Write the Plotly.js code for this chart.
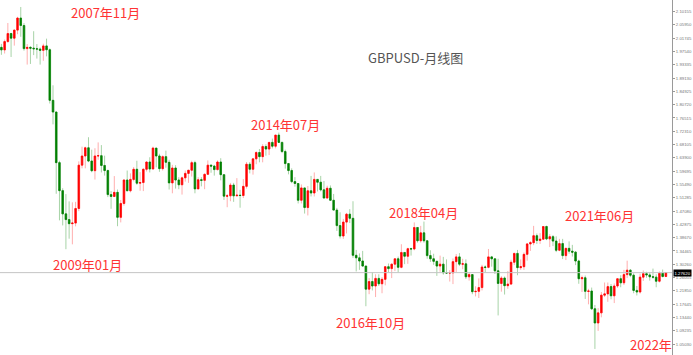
<!DOCTYPE html>
<html>
<head>
<meta charset="utf-8">
<script src="https://cdn.plot.ly/plotly-3.0.1.min.js"></script>
<style>html,body{margin:0;padding:0;background:#fff;}#chart{width:693px;height:355px;}</style>
</head>
<body>
<div id="chart"></div>
<script>
// Monthly GBPUSD candles, May 2007 .. Jul 2024
var startYear = 2007, startMonth = 5;

var openP = [
 1.9885,1.9805,2.0068,2.0322,2.0175,2.0430,2.0810,2.0575,
 1.9845,1.9885,1.9860,1.9840,1.9830,1.9790,1.9930,1.9810,1.8210,1.7840,1.6240,1.5355,
 1.4620,1.4440,1.4310,1.4330,1.4790,1.6160,1.6450,1.6710,1.6290,1.5985,1.6450,1.6460,
 1.6150,1.5990,1.5230,1.5170,1.5300,1.4510,1.4950,1.5690,1.5350,1.5710,1.6030,1.5590,
 1.5610,1.6030,1.6260,1.6040,1.6700,1.6450,1.6050,1.6430,1.6250,1.5600,1.6070,1.5690,
 1.5540,1.5760,1.5900,1.6000,1.6240,1.5410,1.5700,1.5680,1.5870,1.6160,1.6130,1.6020,
 1.6260,1.5860,1.5180,1.5190,1.5530,1.5190,1.5210,1.5200,1.5490,1.6190,1.6030,1.6360,
 1.6560,1.6430,1.6750,1.6670,1.6880,1.6760,1.7110,1.6880,1.6590,1.6210,1.5990,1.5640,
 1.5580,1.5050,1.5440,1.4820,1.5350,1.5280,1.5710,1.5620,1.5380,1.5120,1.5430,1.5050,
 1.4740,1.4250,1.3920,1.4360,1.4610,1.4480,1.3310,1.3230,1.3130,1.2970,1.2240,1.2480,
 1.2340,1.2580,1.2410,1.2550,1.2950,1.2890,1.3030,1.3200,1.2930,1.3400,1.3280,1.3520,
 1.3510,1.4190,1.3770,1.4020,1.3770,1.3300,1.3200,1.3120,1.2970,1.3030,1.2760,1.2750,
 1.2755,1.3110,1.3260,1.3030,1.3040,1.2630,1.2700,1.2160,1.2170,1.2290,1.2940,1.2930,
 1.3260,1.3200,1.2820,1.2420,1.2590,1.2350,1.2400,1.3090,1.3370,1.2920,1.2950,1.3340,
 1.3670,1.3710,1.3930,1.3780,1.3820,1.4220,1.3830,1.3900,1.3760,1.3470,1.3680,1.3300,
 1.3530,1.3440,1.3410,1.3130,1.2570,1.2600,1.2170,1.2180,1.1620,1.1170,1.1490,1.2050,
 1.2090,1.2320,1.2030,1.2340,1.2570,1.2440,1.2700,1.2840,1.2680,1.2200,1.2150,1.2620,
 1.2730,1.2690,1.2630,1.2620,1.2490,1.2740,1.2640
];
var highP = [
 1.9994,2.0133,2.0655,2.0345,2.0450,2.0850,2.1161,2.0650,
 1.9990,1.9920,2.0395,1.9990,1.9880,2.0000,2.0160,1.9850,1.8685,1.7850,1.6300,1.5430,
 1.5245,1.5015,1.4985,1.5000,1.6280,1.6745,1.6745,1.7043,1.6650,1.6695,1.6880,1.6795,
 1.6460,1.6020,1.5340,1.5815,1.5390,1.5060,1.5720,1.5990,1.5900,1.6100,1.6300,1.5940,
 1.6060,1.6280,1.6410,1.6745,1.6700,1.6520,1.6470,1.6620,1.6330,1.6170,1.6160,1.5780,
 1.5800,1.5990,1.6010,1.6300,1.6300,1.5780,1.5780,1.5900,1.6310,1.6180,1.6170,1.6310,
 1.6380,1.5860,1.5250,1.5600,1.5600,1.5750,1.5380,1.5720,1.6260,1.6260,1.6380,1.6600,
 1.6670,1.6820,1.6820,1.6890,1.7000,1.7120,1.7191,1.6900,1.6650,1.6230,1.6060,1.5780,
 1.5590,1.5550,1.5450,1.5500,1.5820,1.5930,1.5720,1.5820,1.5660,1.5510,1.5520,1.5250,
 1.4810,1.4670,1.4460,1.4650,1.4770,1.5020,1.3480,1.3370,1.3450,1.2980,1.2590,1.2780,
 1.2710,1.2710,1.2620,1.2970,1.3050,1.3050,1.3210,1.3270,1.3660,1.3410,1.3550,1.3550,
 1.4350,1.4200,1.4240,1.4377,1.3780,1.3470,1.3360,1.3140,1.3300,1.3260,1.3180,1.2840,
 1.3210,1.3350,1.3380,1.3200,1.3180,1.2780,1.2710,1.2330,1.2580,1.3010,1.2990,1.3510,
 1.3290,1.3210,1.3200,1.2650,1.2640,1.2810,1.3170,1.3390,1.3480,1.3180,1.3400,1.3700,
 1.3760,1.4240,1.4000,1.4010,1.4230,1.4250,1.3980,1.3950,1.3910,1.3830,1.3830,1.3550,
 1.3750,1.3640,1.3440,1.3170,1.2670,1.2670,1.2250,1.2290,1.1740,1.1640,1.2150,1.2450,
 1.2450,1.2400,1.2420,1.2580,1.2680,1.2850,1.3140,1.2870,1.2740,1.2340,1.2730,1.2830,
 1.2790,1.2770,1.2890,1.2710,1.2800,1.2860,1.2780
];
var lowP = [
 1.9649,1.9690,2.0030,1.9580,1.9940,2.0300,2.0220,1.9780,
 1.9340,1.9360,1.9640,1.9530,1.9340,1.9460,1.9600,1.8110,1.7450,1.5255,1.4415,1.4255,
 1.3503,1.3835,1.3657,1.4225,1.4705,1.6060,1.6060,1.6255,1.5935,1.5705,1.6330,1.5930,
 1.5830,1.5150,1.4780,1.5150,1.4230,1.4350,1.4880,1.5340,1.5300,1.5650,1.5540,1.5350,
 1.5340,1.5960,1.5930,1.6020,1.6090,1.5950,1.5990,1.6080,1.5390,1.5270,1.5420,1.5400,
 1.5230,1.5640,1.5600,1.5800,1.5270,1.5400,1.5490,1.5400,1.5850,1.5920,1.5830,1.5990,
 1.5680,1.5060,1.4830,1.5020,1.5000,1.5180,1.4815,1.5120,1.5420,1.5900,1.5860,1.6190,
 1.6250,1.6250,1.6460,1.6480,1.6690,1.6690,1.6860,1.6540,1.6050,1.5870,1.5590,1.5480,
 1.4950,1.4950,1.4630,1.4570,1.5170,1.5170,1.5330,1.5330,1.5110,1.5110,1.5030,1.4730,
 1.4080,1.3840,1.3830,1.4000,1.4330,1.3230,1.2800,1.2850,1.2950,1.1700,1.2080,1.2200,
 1.1990,1.2340,1.2110,1.2360,1.2770,1.2590,1.2810,1.2770,1.2900,1.3030,1.3040,1.3300,
 1.3470,1.3710,1.3710,1.3710,1.3200,1.3100,1.3010,1.2660,1.2790,1.2700,1.2720,1.2480,
 1.2400,1.2780,1.2970,1.2870,1.2560,1.2510,1.2080,1.2010,1.1960,1.2200,1.2770,1.2900,
 1.2950,1.2720,1.1409,1.2160,1.2070,1.2250,1.2370,1.3000,1.2680,1.2850,1.2850,1.3140,
 1.3450,1.3630,1.3670,1.3670,1.3800,1.3790,1.3570,1.3600,1.3410,1.3440,1.3190,1.3160,
 1.3360,1.3270,1.3000,1.2410,1.2150,1.1930,1.1760,1.1580,1.0350,1.0920,1.1350,1.1990,
 1.1840,1.1920,1.1800,1.2280,1.2300,1.2370,1.2590,1.2620,1.2110,1.2040,1.2100,1.2500,
 1.2600,1.2510,1.2570,1.2300,1.2450,1.2610,1.2620
];
var closeP = [
 1.9805,2.0068,2.0322,2.0175,2.0430,2.0810,2.0575,1.9845,
 1.9885,1.9860,1.9840,1.9830,1.9790,1.9930,1.9810,1.8210,1.7840,1.6240,1.5355,1.4620,
 1.4440,1.4310,1.4330,1.4790,1.6160,1.6450,1.6710,1.6290,1.5985,1.6450,1.6460,1.6150,
 1.5990,1.5230,1.5170,1.5300,1.4510,1.4950,1.5690,1.5350,1.5710,1.6030,1.5590,1.5610,
 1.6030,1.6260,1.6040,1.6700,1.6450,1.6050,1.6430,1.6250,1.5600,1.6070,1.5690,1.5540,
 1.5760,1.5900,1.6000,1.6240,1.5410,1.5700,1.5680,1.5870,1.6160,1.6130,1.6020,1.6260,
 1.5860,1.5180,1.5190,1.5530,1.5190,1.5210,1.5200,1.5490,1.6190,1.6030,1.6360,1.6560,
 1.6430,1.6750,1.6670,1.6880,1.6760,1.7110,1.6880,1.6590,1.6210,1.5990,1.5640,1.5580,
 1.5050,1.5440,1.4820,1.5350,1.5280,1.5710,1.5620,1.5380,1.5120,1.5430,1.5050,1.4740,
 1.4250,1.3920,1.4360,1.4610,1.4480,1.3310,1.3230,1.3130,1.2970,1.2240,1.2480,1.2340,
 1.2580,1.2410,1.2550,1.2950,1.2890,1.3030,1.3200,1.2930,1.3400,1.3280,1.3520,1.3510,
 1.4190,1.3770,1.4020,1.3770,1.3300,1.3200,1.3120,1.2970,1.3030,1.2760,1.2750,1.2755,
 1.3110,1.3260,1.3030,1.3040,1.2630,1.2700,1.2160,1.2170,1.2290,1.2940,1.2930,1.3260,
 1.3200,1.2820,1.2420,1.2590,1.2350,1.2400,1.3090,1.3370,1.2920,1.2950,1.3340,1.3670,
 1.3710,1.3930,1.3780,1.3820,1.4220,1.3830,1.3900,1.3760,1.3470,1.3680,1.3300,1.3530,
 1.3440,1.3410,1.3130,1.2570,1.2600,1.2170,1.2180,1.1620,1.1170,1.1490,1.2050,1.2090,
 1.2320,1.2030,1.2340,1.2570,1.2440,1.2700,1.2840,1.2680,1.2200,1.2150,1.2620,1.2730,
 1.2690,1.2630,1.2620,1.2490,1.2740,1.2640,1.2762
];

var yTickVals = [1.05030,1.09235,1.13440,1.17645,1.21850,1.26055,1.30260,1.34465,1.38670,1.42875,
 1.47080,1.51285,1.55490,1.59695,1.63900,1.68105,1.72310,1.76515,1.80720,1.84925,
 1.89130,1.93335,1.97540,2.01745,2.05950,2.10155];
var yTickText = ['1.05030','1.09235','1.13440','1.17645','1.21850','1.26055','1.30260','1.34465','1.38670','1.42875',
 '1.47080','1.51285','1.55490','1.59695','1.63900','1.68105','1.72310','1.76515','1.80720','1.84925',
 '1.89130','1.93335','1.97540','2.01745','2.05950','2.10155'];

var noteTexts = ['2007年11月','2009年01月','2014年07月','2016年10月','2018年04月','2021年06月','2022年'];
var titleText = 'GBPUSD-月线图';

// month category labels
var months = [];
for (var i = 0; i < openP.length; i++) {
  var m = startMonth - 1 + i;
  var yy = startYear + Math.floor(m / 12);
  var mm = (m % 12) + 1;
  months.push(yy + '-' + (mm < 10 ? '0' + mm : mm));
}
var bodyHigh = openP.map(function (o, i) { return Math.max(o, closeP[i]); });
var bodyLow = openP.map(function (o, i) { return Math.min(o, closeP[i]); });
var lastPrice = closeP[closeP.length - 1];

var RED = '#ff0000', GREEN = '#008000';

var wicks = {
  type: 'candlestick', x: months, open: openP, high: highP, low: lowP, close: closeP,
  increasing: { line: { color: 'rgba(255,0,0,0.32)', width: 1 }, fillcolor: 'rgba(0,0,0,0)' },
  decreasing: { line: { color: 'rgba(0,128,0,0.35)', width: 1 }, fillcolor: 'rgba(0,0,0,0)' },
  hoverinfo: 'skip', showlegend: false
};
var bodies = {
  type: 'candlestick', x: months, open: openP, high: bodyHigh, low: bodyLow, close: closeP,
  increasing: { line: { color: RED, width: 0.6 }, fillcolor: RED },
  decreasing: { line: { color: GREEN, width: 0.6 }, fillcolor: GREEN },
  hoverinfo: 'skip', showlegend: false
};

var PW = 672, PH = 355;
function px(x) { return x / PW; }
function py(y) { return 1 - y / PH; }
var noteFont = { family: 'Noto Sans CJK SC, sans-serif', size: 13, color: '#ff3333' };
var notePos = [[105, 12.5], [87.5, 264], [285, 125], [370, 322], [423, 212], [599.5, 215.5], [650.5, 344.5]];
var annotations = noteTexts.map(function (t, i) {
  return { xref: 'paper', yref: 'paper', x: px(notePos[i][0]), y: py(notePos[i][1]),
    xanchor: 'center', yanchor: 'middle', text: t, showarrow: false, font: noteFont };
});
annotations.push({ xref: 'paper', yref: 'paper', x: px(415.5), y: py(57), xanchor: 'center', yanchor: 'middle',
  text: titleText, showarrow: false, font: { family: 'Noto Sans CJK SC, sans-serif', size: 13, color: '#555555' } });
annotations.push({ xref: 'paper', yref: 'y', x: 1, y: lastPrice, xanchor: 'left', yanchor: 'middle', xshift: 1,
  text: lastPrice.toFixed(5), showarrow: false, bgcolor: '#000000', borderpad: 0.5,
  font: { family: 'Liberation Sans, sans-serif', size: 4.3, color: '#ffffff' } });

var layout = {
  width: 693, height: 355,
  margin: { l: 0, r: 21, t: 0, b: 0, pad: 0 },
  paper_bgcolor: '#ffffff', plot_bgcolor: '#ffffff',
  showlegend: false, hovermode: false, dragmode: false,
  xaxis: { type: 'category', range: [-0.434, 207.9], visible: false, rangeslider: { visible: false },
    showgrid: false, zeroline: false, fixedrange: true },
  yaxis: { range: [1.0158, 2.1382], side: 'right', showline: true, linecolor: '#9a9a9a', linewidth: 1,
    ticks: 'outside', ticklen: 2, tickcolor: '#9a9a9a', tickvals: yTickVals, ticktext: yTickText,
    tickfont: { family: 'Liberation Sans, sans-serif', size: 4.3, color: '#777777' },
    showgrid: false, zeroline: false, fixedrange: true },
  shapes: [{ type: 'line', xref: 'paper', x0: 0, x1: 1, yref: 'y', y0: lastPrice, y1: lastPrice,
    line: { color: '#c4c4c4', width: 1 } }],
  annotations: annotations
};

Plotly.newPlot('chart', [wicks, bodies], layout, { displayModeBar: false, staticPlot: true });
</script>
</body>
</html>
